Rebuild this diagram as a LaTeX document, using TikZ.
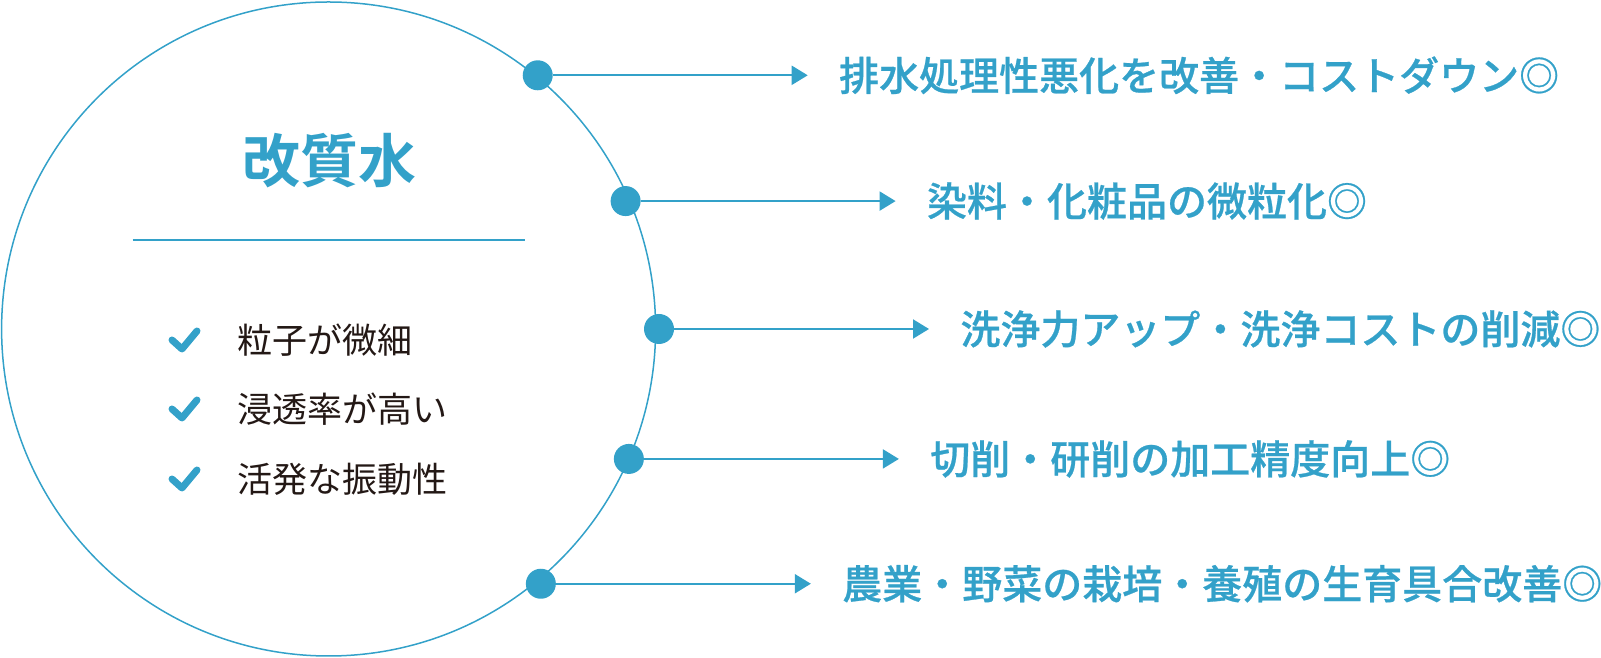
\documentclass[tikz,border=0pt]{standalone}
\usepackage{fontspec}
\setmainfont{Noto Sans CJK JP}
\IfFontExistsTF{Noto Sans CJK JP Medium}
    {\newfontfamily\jpmed{Noto Sans CJK JP Medium}[FakeBold=0.6]}
    {\newfontfamily\jpmed{Noto Sans CJK JP}[FakeBold=1.5]}
\IfFontExistsTF{Noto Sans CJK JP Bold}
    {\newfontfamily\jpbold{Noto Sans CJK JP Bold}}
    {\newfontfamily\jpbold{Noto Sans CJK JP}[FakeBold=2.5]}
\usetikzlibrary{arrows.meta,positioning}
\usepackage{xcolor}
\definecolor{aqua}{HTML}{33A1C9}
\definecolor{ink}{HTML}{231815}

\begin{document}
\begin{tikzpicture}[
    ring/.style={circle, draw=aqua, line width=0.75pt, minimum size=327pt, inner sep=0pt},
    dot/.style={circle, fill=aqua, minimum size=15pt, inner sep=0pt},
    title/.style={font=\jpbold\fontsize{29}{34}\selectfont, color=aqua},
    item/.style={font=\fontsize{17.5}{21}\selectfont, color=ink, inner sep=0pt, anchor=west},
    effect/.style={font=\jpmed\fontsize{20}{24}\selectfont, color=aqua, inner sep=0pt},
    arrow/.style={-{Triangle[length=8pt, width=9.5pt]}, line width=1pt, color=aqua, shorten >=15.5pt},
    tick/.style={line width=3.5pt, line cap=round, line join=round, color=aqua},
]
\useasboundingbox (0,0) rectangle (800.5pt,329pt);

% Circle with title
\node[ring] (water) at (164.3pt,164.5pt) {};
\node[title] (name) at (164.5pt,248.5pt) {改質水};
\draw[aqua, line width=1pt] ([shift={(-98pt,44.5pt)}]water.center) -- ++(196pt,0);

% Properties
\node[item] (i1) at (118.5pt,159pt) {粒子が微細};
\node[item] (i2) at (118.5pt,124.5pt) {浸透率が高い};
\node[item] (i3) at (118.5pt,89.5pt) {活発な振動性};
\foreach \i in {i1,i2,i3}
    \draw[tick] ([xshift=-32.5pt]\i.west) -- ++(5pt,-4.5pt) -- ++(7.5pt,9pt);

% Dots on the circle
\node[dot] (d1) at ([shift={(50.5:164.4pt)}]water.center) {};
\node[dot] (d2) at ([shift={(23.3:161.7pt)}]water.center) {};
\node[dot] (d3) at ([shift={(0:165.2pt)}]water.center) {};
\node[dot] (d4) at ([shift={(-23.4:163.6pt)}]water.center) {};
\node[dot] (d5) at ([shift={(-50.2:165.8pt)}]water.center) {};

% Effects
\node[effect, right=150.5pt of d1.center] (t1) {排水処理性悪化を改善・コストダウン◎};
\node[effect, right=150.5pt of d2.center] (t2) {染料・化粧品の微粒化◎};
\node[effect, right=150.5pt of d3.center] (t3) {洗浄力アップ・洗浄コストの削減◎};
\node[effect, right=150.5pt of d4.center] (t4) {切削・研削の加工精度向上◎};
\node[effect, right=150.5pt of d5.center] (t5) {農業・野菜の栽培・養殖の生育具合改善◎};

\draw[arrow] (d1) -- (t1);
\draw[arrow] (d2) -- (t2);
\draw[arrow] (d3) -- (t3);
\draw[arrow] (d4) -- (t4);
\draw[arrow] (d5) -- (t5);

\end{tikzpicture}
\end{document}
